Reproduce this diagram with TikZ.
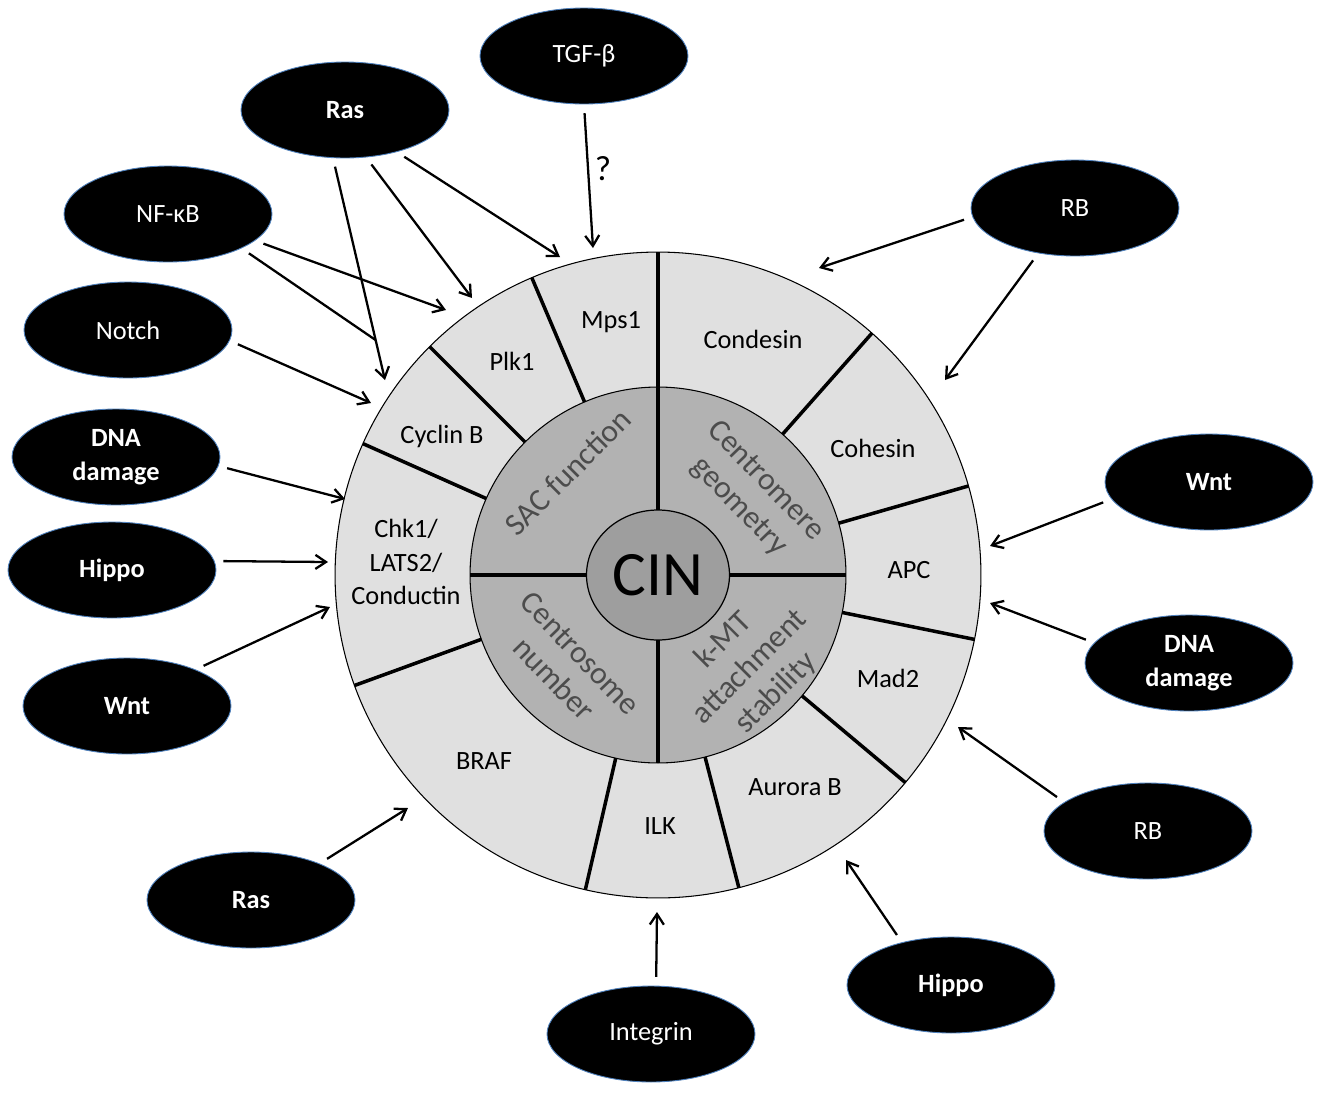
\documentclass[tikz,border=0pt]{standalone}
\usepackage{fontspec}
\setmainfont{Carlito}
\usetikzlibrary{shapes.geometric,arrows.meta,calc}
\definecolor{ringlight}{gray}{0.88}
\definecolor{ringmid}{gray}{0.70}
\definecolor{ringcore}{gray}{0.62}
\definecolor{ringtext}{gray}{0.30}
\definecolor{glow}{RGB}{79,129,189}
\tikzstyle{factor}=[ellipse,fill=black,draw=glow,line width=0.5pt,minimum width=4.16cm,minimum height=1.92cm,inner sep=0pt,text=white,align=center,font=\fontsize{15}{19}\selectfont]
\tikzstyle{factorbold}=[factor,font=\fontsize{15}{19}\selectfont\bfseries]
\tikzstyle{protein}=[align=center,font=\fontsize{15}{19}\selectfont]
\tikzstyle{pathway}=[align=center,text=ringtext,font=\fontsize{18}{21}\selectfont]
\tikzstyle{divider}=[line width=2pt]
\tikzstyle{signal}=[-{Straight Barb[length=6pt,width=8pt]},line width=1.3pt,shorten <=5pt]

\begin{document}
\begin{tikzpicture}[x=0.02cm,y=-0.02cm]
\useasboundingbox (0,0) rectangle (1323,1093);
\coordinate (c) at (658,575);

\fill[ringlight] (c) circle (6.46cm);
\fill[ringmid] (c) circle (3.76cm);
\begin{scope}[shift={(c)}]
\draw[divider] (90:1.3cm) -- (90:6.46cm);
\draw[divider] (180:1.43cm) -- (180:3.76cm);
\draw[divider] (0:1.43cm) -- (0:3.76cm);
\draw[divider] (270:1.3cm) -- (270:3.76cm);
\draw[divider] (113:3.76cm) -- (113:6.46cm);
\draw[divider] (135:3.76cm) -- (135:6.46cm);
\draw[divider] (156:3.76cm) -- (156:6.46cm);
\draw[divider] (200:3.76cm) -- (200:6.46cm);
\draw[divider] (257:3.76cm) -- (257:6.46cm);
\draw[divider] (284.5:3.76cm) -- (284.5:6.46cm);
\draw[divider] (320:3.76cm) -- (320:6.46cm);
\draw[divider] (348.5:3.76cm) -- (348.5:6.46cm);
\draw[divider] (16:3.76cm) -- (16:6.46cm);
\draw[divider] (48.5:3.76cm) -- (48.5:6.46cm);
\end{scope}
\draw[line width=0.6pt] (c) circle (6.46cm);
\draw[line width=0.6pt] (c) circle (3.76cm);
\draw[line width=0.7pt,fill=ringcore] (c) ellipse (1.43cm and 1.3cm);
\node[font=\fontsize{36}{40}\selectfont] (cin) at (c) {CIN};

\node[pathway,rotate=45] (sac) at (568,472) {SAC function};
\node[pathway,rotate=-46] (centromere) at (752,494) {Centromere\\geometry};
\node[pathway,rotate=-46] (centrosome) at (567,666) {Centrosome\\number};
\node[pathway,rotate=45] (kmt) at (750,667) {k-MT\\attachment\\stability};

\node[protein] (mps1) at (611,322) {Mps1};
\node[protein] (plk1) at (512,361) {Plk1};
\node[protein] (cycb) at (442,436) {Cyclin B};
\node[protein] (chk1) at (406,562) {Chk1/\\LATS2/\\Conductin};
\node[protein] (braf) at (484,761) {BRAF};
\node[protein] (ilk) at (660,826) {ILK};
\node[protein] (aurb) at (795,787) {Aurora B};
\node[protein] (mad2) at (888,678) {Mad2};
\node[protein] (apc) at (909,570) {APC};
\node[protein] (cohesin) at (873,448) {Cohesin};
\node[protein] (condesin) at (753,339) {Condesin};

\node[factor] (tgf) at (584,56) {TGF-β};
\node[factorbold] (rastop) at (345,110) {Ras};
\node[factor] (nfkb) at (168,214) {NF-κB};
\node[factor] (notch) at (128,330) {Notch};
\node[factorbold] (dnaleft) at (116,457) {DNA\\damage};
\node[factorbold] (hippoleft) at (112,570) {Hippo};
\node[factorbold] (wntleft) at (127,706) {Wnt};
\node[factorbold] (rasbottom) at (251,900) {Ras};
\node[factor] (integrin) at (651,1034) {Integrin};
\node[factorbold] (hippobottom) at (951,985) {Hippo};
\node[factor] (rbbottom) at (1148,831) {RB};
\node[factorbold] (dnaright) at (1189,663) {DNA\\damage};
\node[factorbold] (wntright) at (1209,482) {Wnt};
\node[factor] (rbtop) at (1075,208) {RB};

\coordinate (tmps) at (593,248);
\coordinate (tmpsb) at (560,257);
\coordinate (tplk) at (472,298);
\coordinate (tplkb) at (446,310);
\coordinate (tcyc) at (385,380);
\coordinate (tcycb) at (371,403);
\coordinate (tchk) at (345,499);
\coordinate (tchkb) at (328,562);
\coordinate (tchkc) at (330,607);
\coordinate (tbraf) at (408,808);
\coordinate (tilk) at (657,912);
\coordinate (taur) at (846,860);
\coordinate (tmad) at (958,727);
\coordinate (tapc) at (990,603);
\coordinate (tapcb) at (990,546);
\coordinate (tcon) at (819,268);
\coordinate (tcoh) at (945,380);
\coordinate (tmerge) at ($(rastop.-104)!0.82!(tcyc)$);

\draw[signal] (tgf.-90) -- (tmps);
\node[protein,font=\fontsize{20}{24}\selectfont] (question) at (603,169) {?};
\draw[signal] (rastop.-39) -- (tmpsb);
\draw[signal] (rastop.-66) -- (tplk);
\draw[signal] (rastop.-104) -- (tcyc);
\draw[signal] (nfkb.-17) -- (tplkb);
\draw[line width=1.3pt,shorten <=5pt] (nfkb.-25) -- (tmerge);
\draw[signal] (notch.-6) -- (tcycb);
\draw[signal] (dnaleft.-5) -- (tchk);
\draw[signal] (hippoleft.5) -- (tchkb);
\draw[signal] (wntleft.28) -- (tchkc);
\draw[signal] (rasbottom.28) -- (tbraf);
\draw[signal] (integrin.84) -- (tilk);
\draw[signal] (hippobottom.139) -- (taur);
\draw[signal] (rbbottom.161) -- (tmad);
\draw[signal] (dnaright.168) -- (tapc);
\draw[signal] (wntright.190) -- (tapcb);
\draw[signal] (rbtop.185) -- (tcon);
\draw[signal] (rbtop.231) -- (tcoh);

\end{tikzpicture}
\end{document}
